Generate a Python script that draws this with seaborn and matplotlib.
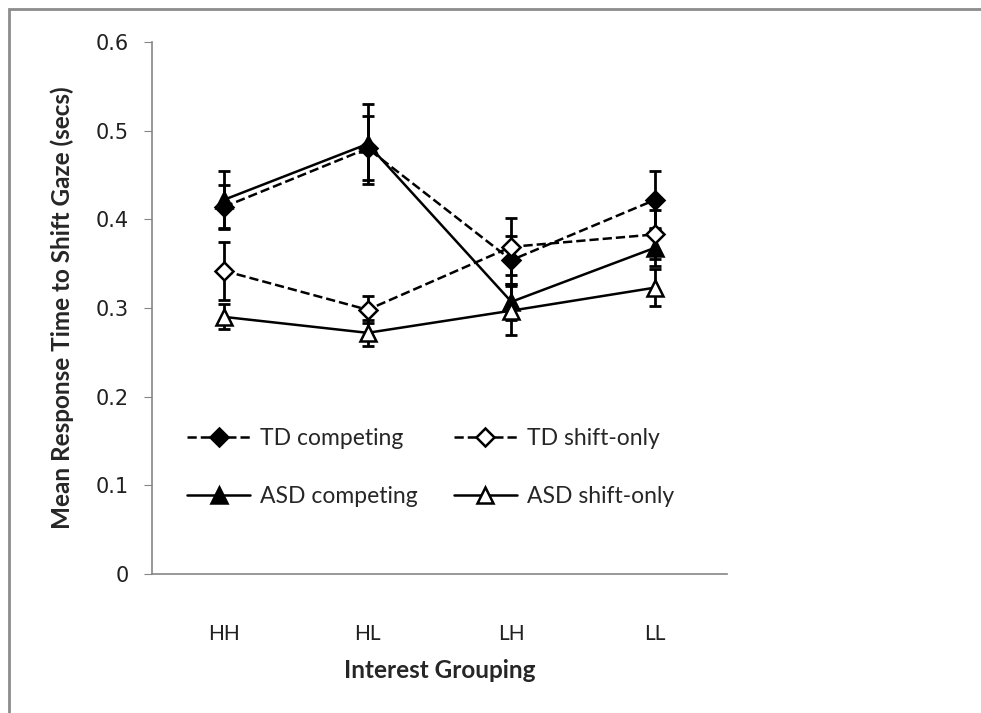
import numpy as np
import pandas as pd
import matplotlib
matplotlib.use("Agg")
import matplotlib.pyplot as plt
import seaborn as sns
from matplotlib.patches import Rectangle
from matplotlib.ticker import FixedLocator

# values
groups = ["HH", "HL", "LH", "LL"]
td_comp = [0.414, 0.480, 0.354, 0.422]
td_comp_err = [0.025, 0.036, 0.027, 0.032]
td_shift = [0.342, 0.298, 0.369, 0.383]
td_shift_err = [0.033, 0.015, 0.032, 0.028]
asd_comp = [0.422, 0.485, 0.307, 0.368]
asd_comp_err = [0.032, 0.045, 0.020, 0.021]
asd_shift = [0.290, 0.272, 0.297, 0.323]
asd_shift_err = [0.014, 0.015, 0.028, 0.021]

sns.set_style("white")
plt.rcParams["font.family"] = ["Lato", "DejaVu Sans"]

fig = plt.figure(figsize=(9.81, 7.13), dpi=100)
ax = fig.add_axes([152 / 981, 1 - 574 / 713, 575 / 981, 532 / 713])

# legend order: column-wise, so TD competing / TD shift-only share row 1
series = [
    ("TD competing", td_comp, td_comp_err, "--", "D", "black", 9.5),
    ("ASD competing", asd_comp, asd_comp_err, "-", "^", "black", 11),
    ("TD shift-only", td_shift, td_shift_err, "--", "D", "white", 9.5),
    ("ASD shift-only", asd_shift, asd_shift_err, "-", "^", "white", 11),
]

xpos = np.arange(len(groups))
for name, vals, errs, ls, mk, fc, ms in series:
    ax.errorbar(xpos, vals, yerr=errs, fmt="none", ecolor="black",
                elinewidth=2, capsize=4.5, capthick=2, zorder=2)
    sns.lineplot(x=xpos, y=vals, ax=ax, color="black", linestyle=ls,
                 linewidth=1.8, marker=mk, markersize=ms, markerfacecolor=fc,
                 markeredgecolor="black", markeredgewidth=1.8, label=name,
                 zorder=3, dashes=(4, 2.3) if ls == "--" else None)

ax.set_xlim(-0.5, 3.5)
ax.set_ylim(0, 0.6)
ax.set_yticks(np.arange(0, 0.61, 0.1))
ax.set_yticklabels(["0", "0.1", "0.2", "0.3", "0.4", "0.5", "0.6"],
                   family="DejaVu Sans", fontsize=15, color="#202020")
ax.set_xticks(xpos)
ax.set_xticklabels(groups, fontsize=15, color="#202020")
ax.xaxis.set_minor_locator(FixedLocator([0.5, 1.5, 2.5, 3.5]))
ax.tick_params(axis="x", which="major", length=0, pad=36)
ax.tick_params(axis="x", which="minor", length=6, color="#868686", direction="out")
ax.tick_params(axis="y", length=6, color="#868686", direction="out", pad=11, left=True)

for s in ["top", "right"]:
    ax.spines[s].set_visible(False)
for s in ["left", "bottom"]:
    ax.spines[s].set_color("#868686")
    ax.spines[s].set_linewidth(1.2)

ax.set_ylabel("Mean Response Time to Shift Gaze (secs)", fontsize=17.5,
              fontweight="bold", labelpad=15)
ax.set_xlabel("Interest Grouping", fontsize=17.5, fontweight="bold", labelpad=11)

leg = ax.legend(loc="upper left", bbox_to_anchor=(0.061, 0.275), ncol=2,
                frameon=False, fontsize=16.5, handlelength=2.75,
                columnspacing=1.55, labelspacing=1.62, handletextpad=0.45,
                borderpad=0, borderaxespad=0)

fig.patches.append(Rectangle((9 / 981, -0.2), 1.2, 1 - 9 / 713 + 0.2,
                             transform=fig.transFigure, fill=False,
                             edgecolor="#8c8c8c", linewidth=2))

fig.savefig("out.png", dpi=100)
